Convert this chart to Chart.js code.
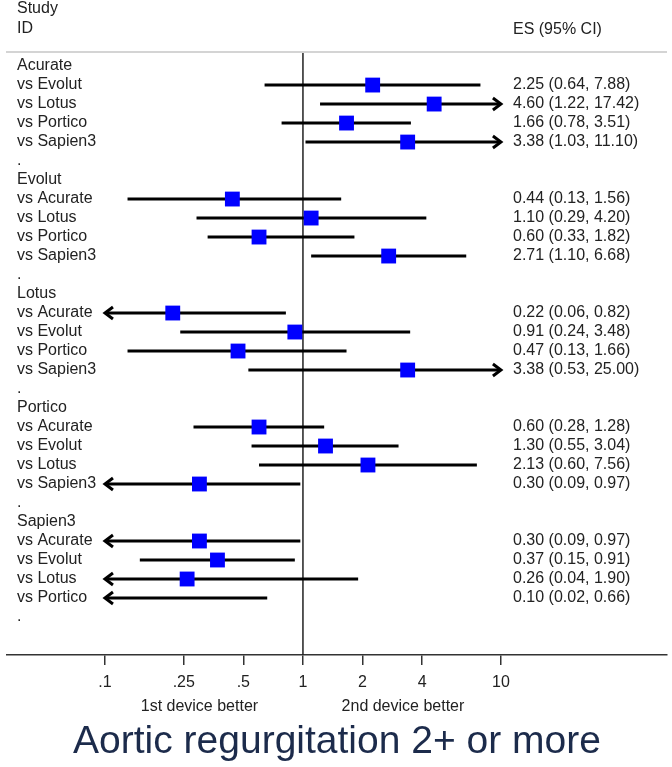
<!DOCTYPE html>
<html>
<head>
<meta charset="utf-8">
<style>
  html, body { margin: 0; padding: 0; background: #fff; }
</style>
</head>
<body>
<canvas id="forest" width="672" height="767"></canvas>
<script src="https://cdn.jsdelivr.net/npm/chart.js@4/dist/chart.umd.min.js"></script>
<script>
// one entry per line of the plot, '.' lines are the spacers between groups
const rowLabels = [
    'Acurate', 'vs Evolut', 'vs Lotus', 'vs Portico', 'vs Sapien3', '.',
    'Evolut', 'vs Acurate', 'vs Lotus', 'vs Portico', 'vs Sapien3', '.',
    'Lotus', 'vs Acurate', 'vs Evolut', 'vs Portico', 'vs Sapien3', '.',
    'Portico', 'vs Acurate', 'vs Evolut', 'vs Lotus', 'vs Sapien3', '.',
    'Sapien3', 'vs Acurate', 'vs Evolut', 'vs Lotus', 'vs Portico', '.'
];
const estimates = [
    null, 2.25, 4.60, 1.66, 3.38, null,
    null, 0.44, 1.10, 0.60, 2.71, null,
    null, 0.22, 0.91, 0.47, 3.38, null,
    null, 0.60, 1.30, 2.13, 0.30, null,
    null, 0.30, 0.37, 0.26, 0.10, null
];
const lower = [
    null, 0.64, 1.22, 0.78, 1.03, null,
    null, 0.13, 0.29, 0.33, 1.10, null,
    null, 0.06, 0.24, 0.13, 0.53, null,
    null, 0.28, 0.55, 0.60, 0.09, null,
    null, 0.09, 0.15, 0.04, 0.02, null
];
const upper = [
    null, 7.88, 17.42, 3.51, 11.10, null,
    null, 1.56, 4.20, 1.82, 6.68, null,
    null, 0.82, 3.48, 1.66, 25.00, null,
    null, 1.28, 3.04, 7.56, 0.97, null,
    null, 0.97, 0.91, 1.90, 0.66, null
];
const tickValues = [0.1, 0.25, 0.5, 1, 2, 4, 10];
const tickLabels = ['.1', '.25', '.5', '1', '2', '4', '10'];
const sideLabels = ['1st device better', '2nd device better'];
const sideLabelAt = [0.3, 3.2];

const clipLo = tickValues[0];
const clipHi = tickValues[tickValues.length - 1];
const rowMin = -0.74;   // y range so rows sit 19px apart
const rowMax = 31.0;
const esColumnX = 513;
const textFont = '16px "Liberation Sans", Arial, sans-serif';
const textColor = '#222';

Chart.defaults.font.family = '"Liberation Sans", Arial, sans-serif';
Chart.defaults.color = textColor;

// CI segments, broken by NaN points; clipped at the outer ticks
const ciPoints = [];
const markerPoints = [];
estimates.forEach((est, i) => {
    if (est === null) return;
    ciPoints.push({ x: Math.max(lower[i], clipLo), y: i });
    ciPoints.push({ x: Math.min(upper[i], clipHi), y: i });
    ciPoints.push({ x: NaN, y: NaN });
    if (est > clipLo && est < clipHi) markerPoints.push({ x: est, y: i });
});

// header, ES column, arrows and the direction labels
const forestExtras = {
    id: 'forestExtras',
    afterDatasetsDraw(chart) {
        const { ctx, chartArea, scales } = chart;
        const xs = scales.x, ys = scales.y;
        ctx.save();

        // arrows where the CI runs off the axis
        ctx.strokeStyle = '#000';
        ctx.lineWidth = 3;
        estimates.forEach((est, i) => {
            if (est === null) return;
            const y = ys.getPixelForValue(i);
            if (lower[i] < clipLo) {
                const x = xs.getPixelForValue(clipLo);
                ctx.beginPath();
                ctx.moveTo(x + 8, y - 6);
                ctx.lineTo(x, y);
                ctx.lineTo(x + 8, y + 6);
                ctx.stroke();
            }
            if (upper[i] > clipHi) {
                const x = xs.getPixelForValue(clipHi);
                ctx.beginPath();
                ctx.moveTo(x - 8, y - 6);
                ctx.lineTo(x, y);
                ctx.lineTo(x - 8, y + 6);
                ctx.stroke();
            }
        });

        ctx.font = textFont;
        ctx.fillStyle = textColor;
        ctx.textBaseline = 'middle';
        ctx.textAlign = 'left';

        // header
        ctx.fillText('Study', chartArea.left + 10, chartArea.top - 43);
        ctx.fillText('ID', chartArea.left + 10, chartArea.top - 23);
        ctx.fillText('ES (95% CI)', esColumnX, chartArea.top - 22);
        ctx.strokeStyle = '#d4d4d4';
        ctx.lineWidth = 2;
        ctx.beginPath();
        ctx.moveTo(chartArea.left - 1, chartArea.top);
        ctx.lineTo(chartArea.right, chartArea.top);
        ctx.stroke();

        // ES (95% CI) column
        estimates.forEach((est, i) => {
            if (est === null) return;
            const txt = est.toFixed(2) + ' (' + lower[i].toFixed(2) + ', ' + upper[i].toFixed(2) + ')';
            ctx.fillText(txt, esColumnX, ys.getPixelForValue(i));
        });

        // direction labels under the axis
        ctx.textAlign = 'center';
        sideLabels.forEach((lab, k) => {
            ctx.fillText(lab, xs.getPixelForValue(sideLabelAt[k]), xs.bottom + 6);
        });
        ctx.restore();
    }
};

new Chart(document.getElementById('forest'), {
    type: 'scatter',
    data: {
        datasets: [
            {
                data: markerPoints,
                pointStyle: 'rect',
                pointRadius: 10.5,
                backgroundColor: '#0000ff',
                borderWidth: 0
            },
            {
                data: ciPoints,
                showLine: true,
                spanGaps: false,
                pointRadius: 0,
                borderColor: '#000',
                borderWidth: 3
            },
            {
                data: [{ x: 1, y: rowMin }, { x: 1, y: rowMax }],
                showLine: true,
                pointRadius: 0,
                borderColor: '#222',
                borderWidth: 1.5
            }
        ]
    },
    options: {
        responsive: false,
        animation: false,
        events: [],
        layout: { autoPadding: false, padding: { left: 7, right: 5, top: 52, bottom: 0 } },
        scales: {
            x: {
                type: 'logarithmic',
                min: 0.032,
                max: 69,
                bounds: 'data',
                afterBuildTicks: (s) => { s.ticks = tickValues.map(v => ({ value: v })); },
                ticks: {
                    autoSkip: false,
                    maxRotation: 0,
                    padding: 8,
                    font: { size: 16 },
                    color: textColor,
                    callback: (v) => tickLabels[tickValues.indexOf(v)]
                },
                grid: { drawOnChartArea: false, drawTicks: true, tickLength: 10, color: '#333', lineWidth: 1.5 },
                border: { display: true, color: '#333', width: 1.5 }
            },
            y: {
                type: 'linear',
                reverse: true,
                min: rowMin,
                max: rowMax,
                afterBuildTicks: (s) => { s.ticks = rowLabels.map((_, i) => ({ value: i })); },
                afterFit: (s) => { s.width = 0; },
                ticks: {
                    autoSkip: false,
                    mirror: true,
                    padding: 10,
                    font: { size: 16 },
                    color: textColor,
                    callback: (v, i) => rowLabels[i]
                },
                grid: { display: false, drawTicks: false },
                border: { display: false }
            }
        },
        plugins: {
            legend: { display: false },
            tooltip: { enabled: false },
            title: {
                display: true,
                position: 'bottom',
                text: 'Aortic regurgitation 2+ or more',
                color: '#1c2b4b',
                font: { size: 39, weight: 'normal' },
                padding: { top: 19, bottom: 1 }
            }
        }
    },
    plugins: [forestExtras]
});
</script>
</body>
</html>
